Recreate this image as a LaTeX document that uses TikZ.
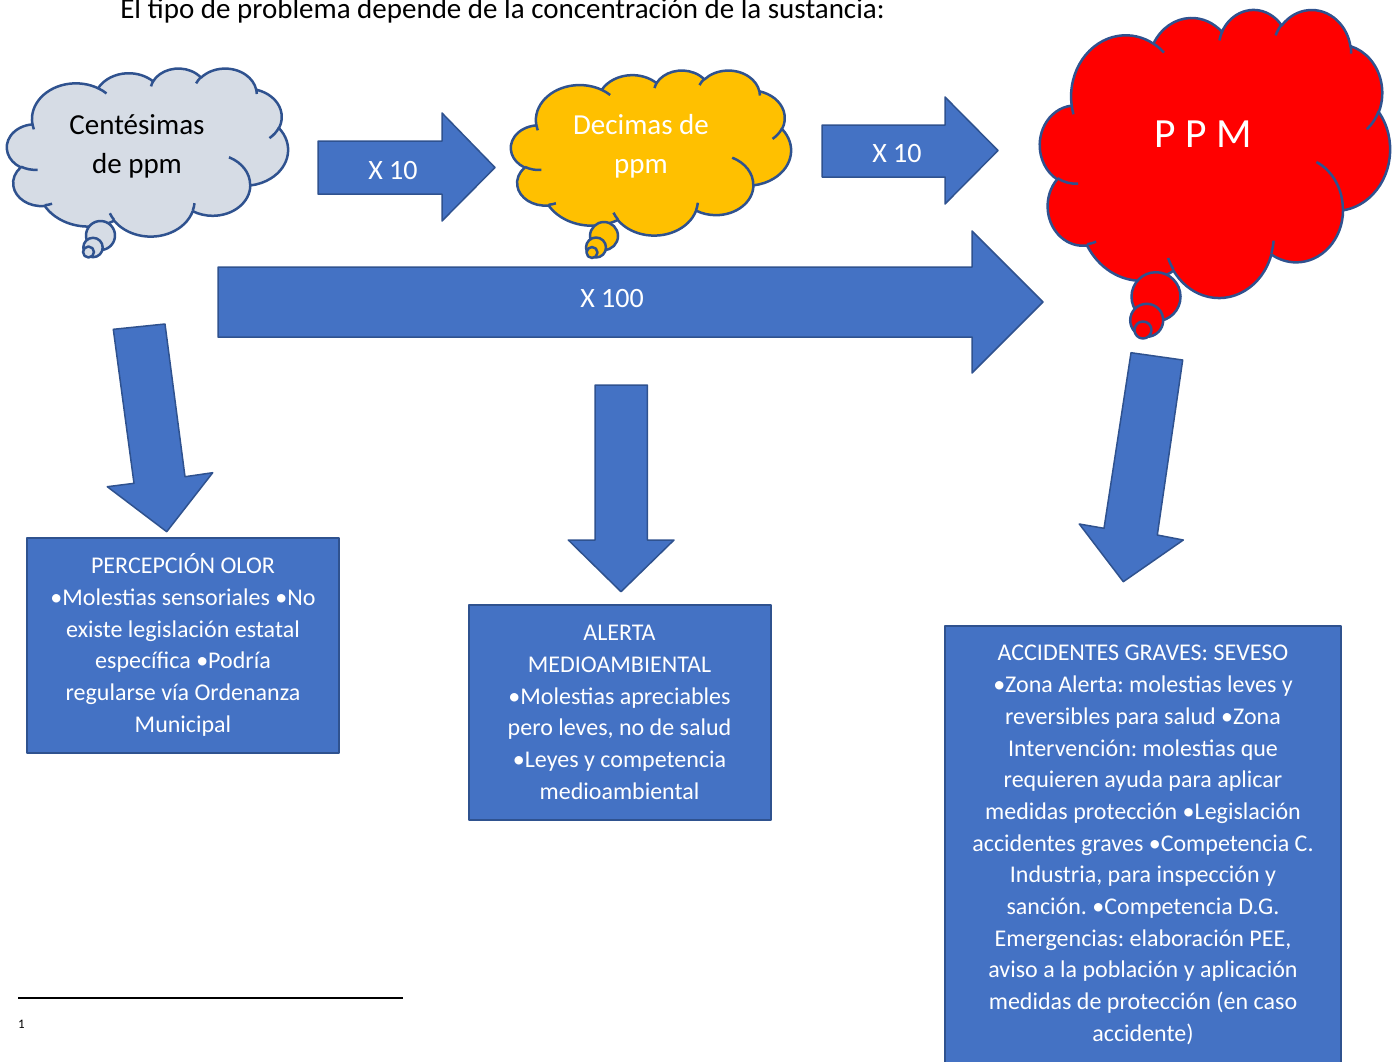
\documentclass[tikz,border=0pt]{standalone}
\usepackage{fontspec}
\setmainfont{Carlito}
\frenchspacing

\definecolor{officeblue}{HTML}{4472C4}
\definecolor{officeline}{HTML}{2F528F}
\definecolor{cloudgray}{HTML}{D6DCE5}
\definecolor{cloudgold}{HTML}{FFC000}

% arco de elipse con angulo "visual" (como en la forma de Office)
\newcommand\carc[4]{arc[x radius=#1, y radius=#2, start angle={pa(#1,#2,#3)}, end angle={pa(#1,#2,#3+#4)}]}
% contorno de la nube, caja 0..100 x 0..100
\newcommand\cloudoutline{(9.028,33.264)
  \carc{15.632}{21.273}{-190.4875}{123.7805}
  \carc{12.345}{16.822}{-144.1024}{89.9452}
  \carc{10.104}{13.762}{-145.8079}{99.7230}
  \carc{11.243}{15.266}{-130.9861}{117.2417}
  \carc{12.345}{16.836}{-78.7089}{109.0269}
  \carc{15.683}{21.343}{-46.2673}{130.2690}
  \carc{13.391}{18.211}{0.6250}{114.0333}
  \carc{15.630}{21.331}{22.4516}{115.1726}
  \carc{17.870}{24.405}{66.2426}{75.7110}
  \carc{10.093}{13.699}{-274.9421}{146.7356}
  \carc{10.058}{13.762}{-246.8285}{152.5189} -- cycle}
% pliegues interiores
\newcommand\cloudcreases{%
  (10.863,60.595) \carc{10.058}{13.762}{86.7420}{26.4295}
  (16.037,80.785) \carc{10.093}{13.699}{73.6105}{11.4475}
  (38.144,90.486) \carc{15.630}{21.331}{137.6242}{14.0811}
  (66.729,80.442) \carc{15.630}{21.331}{6.4533}{15.9984}
  (79.002,53.134) \carc{13.391}{18.211}{-70.2924}{70.9174}
  (96.755,35.542) \carc{12.345}{16.836}{30.3180}{27.7515}
  (88.713,12.560) \carc{11.243}{15.266}{-13.7443}{14.8613}
  (67.310,9.148)  \carc{11.243}{15.266}{-149.1815}{18.1930}
  (51.252,10.926) \carc{10.104}{13.762}{-163.4943}{17.6898}
  (32.407,12.019) \carc{15.632}{21.273}{-66.7070}{12.3194}
  (9.553,36.549)  \carc{15.632}{21.273}{157.6544}{11.8539}}

\begin{document}
\begin{tikzpicture}[x=1pt, y=-1pt, line join=round,
  declare function={pa(\xr,\yr,\va)=\va+asin(sin(atan2(\xr*sin(\va),\yr*cos(\va))-\va));},
  cloudline/.style={draw=officeline, line width=2.5pt},
  blockarrow/.style={draw=officeline, fill=officeblue, line width=1.5pt},
  arrowtext/.style={text=white, inner sep=0pt, font=\fontsize{28}{34}\selectfont},
  infobox/.style={draw=officeline, fill=officeblue, line width=2pt, text=white, align=center,
    inner sep=0pt, font=\fontsize{24}{31.7}\selectfont},
  cloudtext/.style={align=center, inner sep=0pt, font=\fontsize{29}{39}\selectfont}]

  %% ════ titulo ════
  \node[anchor=base, inner sep=0pt, font=\fontsize{29}{35}\selectfont] (titulo) at (502.5,18.5)
    {El tipo de problema depende de la concentración de la sustancia:};

  %% ════ nubes ════
  \begin{scope}[shift={(7,68)}, x=2.81pt, y=-1.68pt]
    \path[cloudline, fill=cloudgray] \cloudoutline;
    \path[cloudline] \cloudcreases;
  \end{scope}
  \draw[cloudline, fill=cloudgray] (100.5,235.5) circle[radius=14.5];
  \draw[cloudline, fill=cloudgray] (93,247.5) circle[radius=9.7];
  \draw[cloudline, fill=cloudgray] (88.5,252) circle[radius=5.5];

  \begin{scope}[shift={(511,70)}, x=2.80pt, y=-1.65pt]
    \path[cloudline, fill=cloudgold] \cloudoutline;
    \path[cloudline] \cloudcreases;
  \end{scope}
  \draw[cloudline, fill=cloudgold] (604,236) circle[radius=14];
  \draw[cloudline, fill=cloudgold] (596,247.5) circle[radius=10];
  \draw[cloudline, fill=cloudgold] (592,252.5) circle[radius=5.5];

  \begin{scope}[shift={(1040,9)}, x=3.50pt, y=-2.88pt]
    \path[cloudline, fill=red] \cloudoutline;
    \path[cloudline] \cloudcreases;
  \end{scope}
  \draw[cloudline, fill=red] (1156,296.7) circle[radius=24.5];
  \draw[cloudline, fill=red] (1146.7,320.3) circle[radius=16.5];
  \draw[cloudline, fill=red] (1143,330) circle[radius=8.5];

  \node[cloudtext] (centesimas) at (137,146) {Centésimas\\de ppm};
  \node[cloudtext, text=white] (decimas) at (641,146) {Decimas de\\ppm};
  \node[inner sep=0pt, text=white, font=\fontsize{41.5}{50}\selectfont] (ppm) at (1203,134.5) {P P M};

  %% ════ flechas de bloque ════
  \draw[blockarrow] (318,141) -- (442,141) -- (442,113) -- (495,167.5) -- (442,221) -- (442,194) -- (318,194) -- cycle;
  \draw[blockarrow] (822,125) -- (945,125) -- (945,97) -- (998,150.5) -- (945,204) -- (945,177) -- (822,177) -- cycle;
  \draw[blockarrow] (218,267) -- (972,267) -- (972,231) -- (1043,302) -- (972,373) -- (972,337) -- (218,337) -- cycle;
  \node[arrowtext] (x10a) at (393,170.5) {X 10};
  \node[arrowtext] (x10b) at (897,153.5) {X 10};
  \node[arrowtext] (x100) at (612,298.5) {X 100};

  % flechas hacia abajo
  \draw[blockarrow] (113.3,329.3) -- (165,324) -- (185,476.7) -- (212.7,472.7) -- (166.7,531.7) -- (107.3,486.7) -- (134,483.3) -- cycle;
  \draw[blockarrow] (595,385) -- (647.3,385) -- (647.3,540) -- (674,540) -- (621,591.7) -- (568.3,540) -- (595,540) -- cycle;
  \draw[blockarrow] (1131,352.7) -- (1182.7,360) -- (1157.3,535) -- (1183.3,540) -- (1123.3,581.7) -- (1079.3,524) -- (1104,528.3) -- cycle;

  %% ════ cuadros ════
  \node[infobox, minimum width=312, minimum height=215] (olor) at (183,645)
    {PERCEPCIÓN OLOR\\•Molestias sensoriales •No\\existe legislación estatal\\específica •Podría\\regularse vía Ordenanza\\Municipal};
  \node[infobox, minimum width=302, minimum height=215] (alerta) at (619.5,712.5)
    {ALERTA\\MEDIOAMBIENTAL\\•Molestias apreciables\\pero leves, no de salud\\•Leyes y competencia\\medioambiental};
  \draw[infobox] (945,626) rectangle (1341,1085);
  \node[infobox, draw=none, fill=none] (seveso) at (1143,845)
    {ACCIDENTES GRAVES: SEVESO\\•Zona Alerta: molestias leves y\\reversibles para salud •Zona\\Intervención: molestias que\\requieren ayuda para aplicar\\medidas protección •Legislación\\accidentes graves •Competencia C.\\Industria, para inspección y\\sanción. •Competencia D.G.\\Emergencias: elaboración PEE,\\aviso a la población y aplicación\\medidas de protección (en caso\\accidente)};

  %% ════ nota al pie ════
  \coordinate (notaA) at (18,998);
  \coordinate (notaB) at (403,998);
  \draw[line width=1.5pt] (notaA) -- (notaB);
  \node[anchor=base west, inner sep=0pt, font=\fontsize{13}{15}\selectfont] (nota) at (18,1028) {1};

  \pgfresetboundingbox
  \path[use as bounding box] (0,0) rectangle (1397,1061);
\end{tikzpicture}
\end{document}
